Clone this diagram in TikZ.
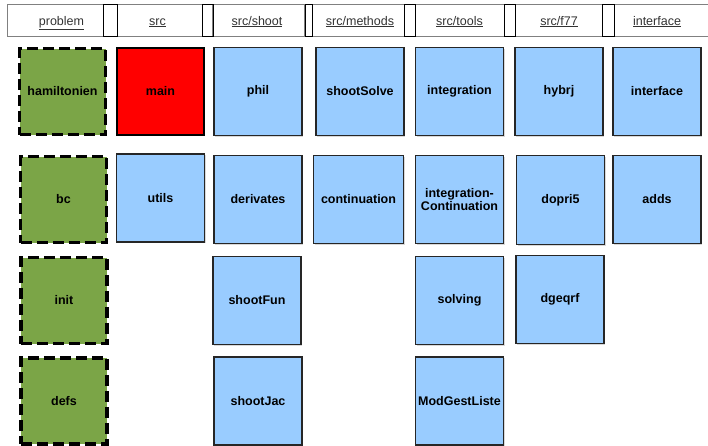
\documentclass[tikz,border=0pt]{standalone}
\usepackage{fontspec}
\setmainfont{Liberation Sans}
\usetikzlibrary{shadows}
\definecolor{boxblue}{HTML}{99CCFF}
\definecolor{boxgreen}{HTML}{7BA547}
\definecolor{hdrgray}{HTML}{808080}
\definecolor{hdrtext}{HTML}{333333}
\begin{document}
\begin{tikzpicture}[x=1pt,y=-1pt,
  cell/.style={draw=none,fill=none,inner sep=0pt,align=center,
    font=\fontsize{12.5}{14}\selectfont\bfseries},
  bluebox/.style={cell,draw=black!85,line width=1.1pt,fill=boxblue,
    minimum width=88pt,minimum height=88pt,
    drop shadow={shadow xshift=1.2pt,shadow yshift=-1.2pt,fill=black!25,opacity=0.6}},
  greenbox/.style={cell,draw=black,line width=3.5pt,fill=boxgreen,
    dash pattern=on 11pt off 5pt,minimum width=86pt,minimum height=86pt},
  redbox/.style={cell,draw=black,line width=2.4pt,fill=red,
    minimum width=87pt,minimum height=87pt},
  hdrcell/.style={draw=hdrgray,line width=1pt,inner sep=0pt,minimum height=32.5pt},
  hdrgap/.style={draw=black,line width=1pt,inner sep=0pt,minimum height=32.5pt},
  hdrlabel/.style={inner sep=0pt,anchor=base,text=hdrtext,font=\fontsize{12.5}{14}\selectfont}
]
\useasboundingbox (0,0) rectangle (708,445);
\fill[white] (0,0) rectangle (708,445);

% header
\node[hdrcell,minimum width=96pt] (c1) at (55,20.25) {};
\node[hdrcell,minimum width=85pt] (c2) at (159.5,20.25) {};
\node[hdrcell,minimum width=92pt] (c3) at (258.5,20.25) {};
\node[hdrcell,minimum width=92pt] (c4) at (358,20.25) {};
\node[hdrcell,minimum width=89pt] (c5) at (459.5,20.25) {};
\node[hdrcell,minimum width=87pt] (c6) at (558.5,20.25) {};
\node[hdrcell,minimum width=110pt] (c7) at (669,20.25) {};
\node[hdrgap,minimum width=14pt] (g1) at (110,20.25) {};
\node[hdrgap,minimum width=11pt] (g2) at (207.5,20.25) {};
\node[hdrgap,minimum width=7pt] (g3) at (308.5,20.25) {};
\node[hdrgap,minimum width=11pt] (g4) at (409.5,20.25) {};
\node[hdrgap,minimum width=11pt] (g5) at (509.5,20.25) {};
\node[hdrgap,minimum width=12pt] (g6) at (608,20.25) {};

\node[hdrlabel] (l1) at (61.5,25) {\underline{problem}};
\node[hdrlabel] (l2) at (157.5,25) {\underline{src}};
\node[hdrlabel] (l3) at (257,25) {\underline{src/shoot}};
\node[hdrlabel] (l4) at (360,25) {\underline{src/methods}};
\node[hdrlabel] (l5) at (459.5,25) {\underline{src/tools}};
\node[hdrlabel] (l6) at (559,25) {\underline{src/f77}};
\node[hdrlabel] (l7) at (657,25) {\underline{interface}};

% row 1
\node[greenbox] (hamiltonien) at (62.5,91.5) {hamiltonien};
\node[redbox] (main) at (160.5,91.5) {main};
\node[bluebox] (phil) at (258,91.5) {phil};
\node[bluebox] (shootSolve) at (360,91.5) {shootSolve};
\node[bluebox] (integration) at (459.5,91.5) {integration};
\node[bluebox] (hybrj) at (559,91.5) {hybrj};
\node[bluebox] (interface) at (657,91.5) {interface};

% row 2
\node[greenbox] (bc) at (63.5,199.5) {bc};
\node[bluebox] (utils) at (160.5,198) {utils};
\node[bluebox] (derivates) at (258,199.5) {derivates};
\node[bluebox,minimum width=90pt] (continuation) at (358.5,199.5) {continuation};
\node[bluebox] (intcont) at (459.5,199.5) {integration-\\[-1pt]Continuation};
\node[bluebox,minimum height=89pt] (dopri5) at (560.5,200) {dopri5};
\node[bluebox] (adds) at (657,199.5) {adds};

% row 3
\node[greenbox] (init) at (64,300.5) {init};
\node[bluebox] (shootFun) at (257,300.5) {shootFun};
\node[bluebox] (solving) at (459.5,300.5) {solving};
\node[bluebox] (dgeqrf) at (560,299.5) {dgeqrf};

% row 4
\node[greenbox] (defs) at (64,401) {defs};
\node[bluebox] (shootJac) at (258,401) {shootJac};
\node[bluebox] (ModGestListe) at (459.5,401) {ModGestListe};
\end{tikzpicture}
\end{document}
